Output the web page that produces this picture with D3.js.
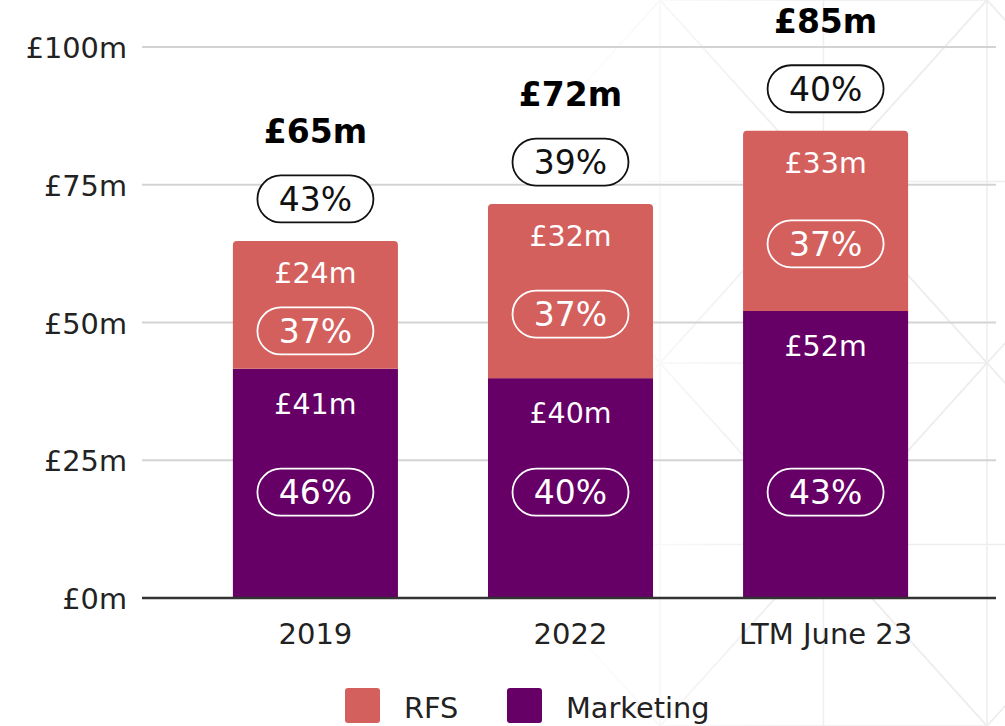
<!DOCTYPE html>
<html><head><meta charset="utf-8">
<script src="https://cdn.jsdelivr.net/npm/d3@7"></script>
<style>
html,body{margin:0;padding:0;background:#fff;}
svg text{font-family:"DejaVu Sans",Verdana,sans-serif;}
</style></head>
<body><svg id="c" width="1005" height="726"></svg>
<script>
const categories = ["2019", "2022", "LTM June 23"];
const marketing = [41.6, 39.9, 52.1];
const rfs = [23.2, 31.6, 32.7];
const marketingLabels = ["£41m", "£40m", "£52m"];
const rfsLabels = ["£24m", "£32m", "£33m"];
const totalLabels = ["£65m", "£72m", "£85m"];
const marketingPct = ["46%", "40%", "43%"];
const rfsPct = ["37%", "37%", "37%"];
const totalPct = ["43%", "39%", "40%"];
const yTicks = [0, 25, 50, 75, 100];
const seriesNames = ["RFS", "Marketing"];
const colors = {RFS: "#d4605e", Marketing: "#660066"};

const svg = d3.select("#c");

// faint decorative background lattice, fading to the left
const defs = svg.append("defs");
const grad = defs.append("linearGradient").attr("id", "fade").attr("x1", 0).attr("x2", 1).attr("y1", 0).attr("y2", 0);
grad.append("stop").attr("offset", "0.55").attr("stop-color", "#fff").attr("stop-opacity", 0);
grad.append("stop").attr("offset", "0.8").attr("stop-color", "#fff").attr("stop-opacity", 1);
defs.append("mask").attr("id", "m").append("rect").attr("width", 1005).attr("height", 726).attr("fill", "url(#fade)");
const pts = [];
for (let k = -1; k < 4; k++) for (let j = -1; j < 3; j++) pts.push([660 + 163.5 * k, j * 363 + (Math.abs(k) % 2) * 181.5]);
const segs = [];
pts.forEach((a, i) => pts.forEach((b, j2) => {
  if (j2 <= i) return;
  const d = Math.hypot(a[0] - b[0], a[1] - b[1]);
  if (d < 500) segs.push([a, b]);
}));
svg.append("g").attr("mask", "url(#m)").selectAll("line").data(segs).join("line")
  .attr("x1", d => d[0][0]).attr("y1", d => d[0][1]).attr("x2", d => d[1][0]).attr("y2", d => d[1][1])
  .attr("stroke", "#eeeeee").attr("stroke-width", 1.5);

const y = d3.scaleLinear().domain([0, 100]).range([598, 47]);
const x = d3.scaleBand().domain(categories).range([188, 953]).paddingInner(0.353).paddingOuter(0.176);

// gridlines
svg.append("g").selectAll("line").data(yTicks.filter(d => d > 0)).join("line")
  .attr("x1", 142).attr("x2", 996).attr("y1", d => y(d)).attr("y2", d => y(d))
  .attr("stroke", "#d3d3d3").attr("stroke-width", 2);

// y tick labels
svg.append("g").selectAll("text").data(yTicks).join("text")
  .attr("x", 127).attr("y", d => y(d) + 1).attr("dy", "0.35em")
  .attr("text-anchor", "end").attr("font-size", 28.8).attr("fill", "#222")
  .text(d => "£" + d + "m");

const bw = x.bandwidth();
const r = 4;
function topRounded(x0, y0, w, h) {
  return `M${x0},${y0+h}V${y0+r}Q${x0},${y0} ${x0+r},${y0}H${x0+w-r}Q${x0+w},${y0} ${x0+w},${y0+r}V${y0+h}Z`;
}

const g = svg.append("g");
categories.forEach((c, i) => {
  const x0 = x(c), cx = x0 + bw / 2;
  const mTop = y(marketing[i]);
  const tTop = y(marketing[i] + rfs[i]);
  g.append("rect").attr("x", x0).attr("y", mTop).attr("width", bw).attr("height", y(0) - mTop).attr("fill", colors.Marketing);
  g.append("path").attr("d", topRounded(x0, tTop, bw, mTop - tTop)).attr("fill", colors.RFS);

  // segment value labels
  g.append("text").attr("x", cx).attr("y", tTop + 32).attr("dy", "0.35em").attr("text-anchor", "middle")
    .attr("font-size", 28.5).attr("fill", "#fff").text(rfsLabels[i]);
  g.append("text").attr("x", cx).attr("y", mTop + 35).attr("dy", "0.35em").attr("text-anchor", "middle")
    .attr("font-size", 28.5).attr("fill", "#fff").text(marketingLabels[i]);

  // pills
  const pill = (cy, txt, stroke, fill) => {
    g.append("rect").attr("x", cx - 58).attr("y", cy - 23.5).attr("width", 116).attr("height", 47)
      .attr("rx", 23.5).attr("fill", fill).attr("stroke", stroke).attr("stroke-width", 1.8);
    g.append("text").attr("x", cx).attr("y", cy).attr("dy", "0.36em").attr("text-anchor", "middle")
      .attr("font-size", 33).attr("fill", stroke).text(txt);
  };
  const rfsPillY = Math.max((tTop + 42 + mTop) / 2, tTop + 88);
  pill(rfsPillY + 2, rfsPct[i], "#fff", "none");
  pill(y(19.2), marketingPct[i], "#fff", "none");
  pill(tTop - 42, totalPct[i], "#111", "#fff");

  g.append("text").attr("x", cx).attr("y", tTop - 110).attr("dy", "0.36em").attr("text-anchor", "middle")
    .attr("font-size", 33).attr("font-weight", "bold").attr("fill", "#000").text(totalLabels[i]);
});

// category axis labels
const xAxis = svg.append("g").attr("transform", "translate(0,598)")
  .call(d3.axisBottom(x).tickSize(0).tickPadding(0));
xAxis.select(".domain").remove();
xAxis.selectAll("text").attr("y", 36).attr("dy", "0.35em").attr("font-size", 29).attr("fill", "#222")
  .attr("font-family", "DejaVu Sans, Verdana, sans-serif");
svg.append("line").attr("x1", 142).attr("x2", 996).attr("y1", 598).attr("y2", 598).attr("stroke", "#333").attr("stroke-width", 2.5);

// legend
const legX = [345, 507];
const leg = svg.append("g");
seriesNames.forEach((s, i) => {
  leg.append("rect").attr("x", legX[i]).attr("y", 688).attr("width", 35).attr("height", 35).attr("rx", 3).attr("fill", colors[s]);
  leg.append("text").attr("x", legX[i] + 59).attr("y", 708).attr("dy", "0.35em").attr("font-size", 28.8).attr("fill", "#222").text(s);
});
</script></body></html>
